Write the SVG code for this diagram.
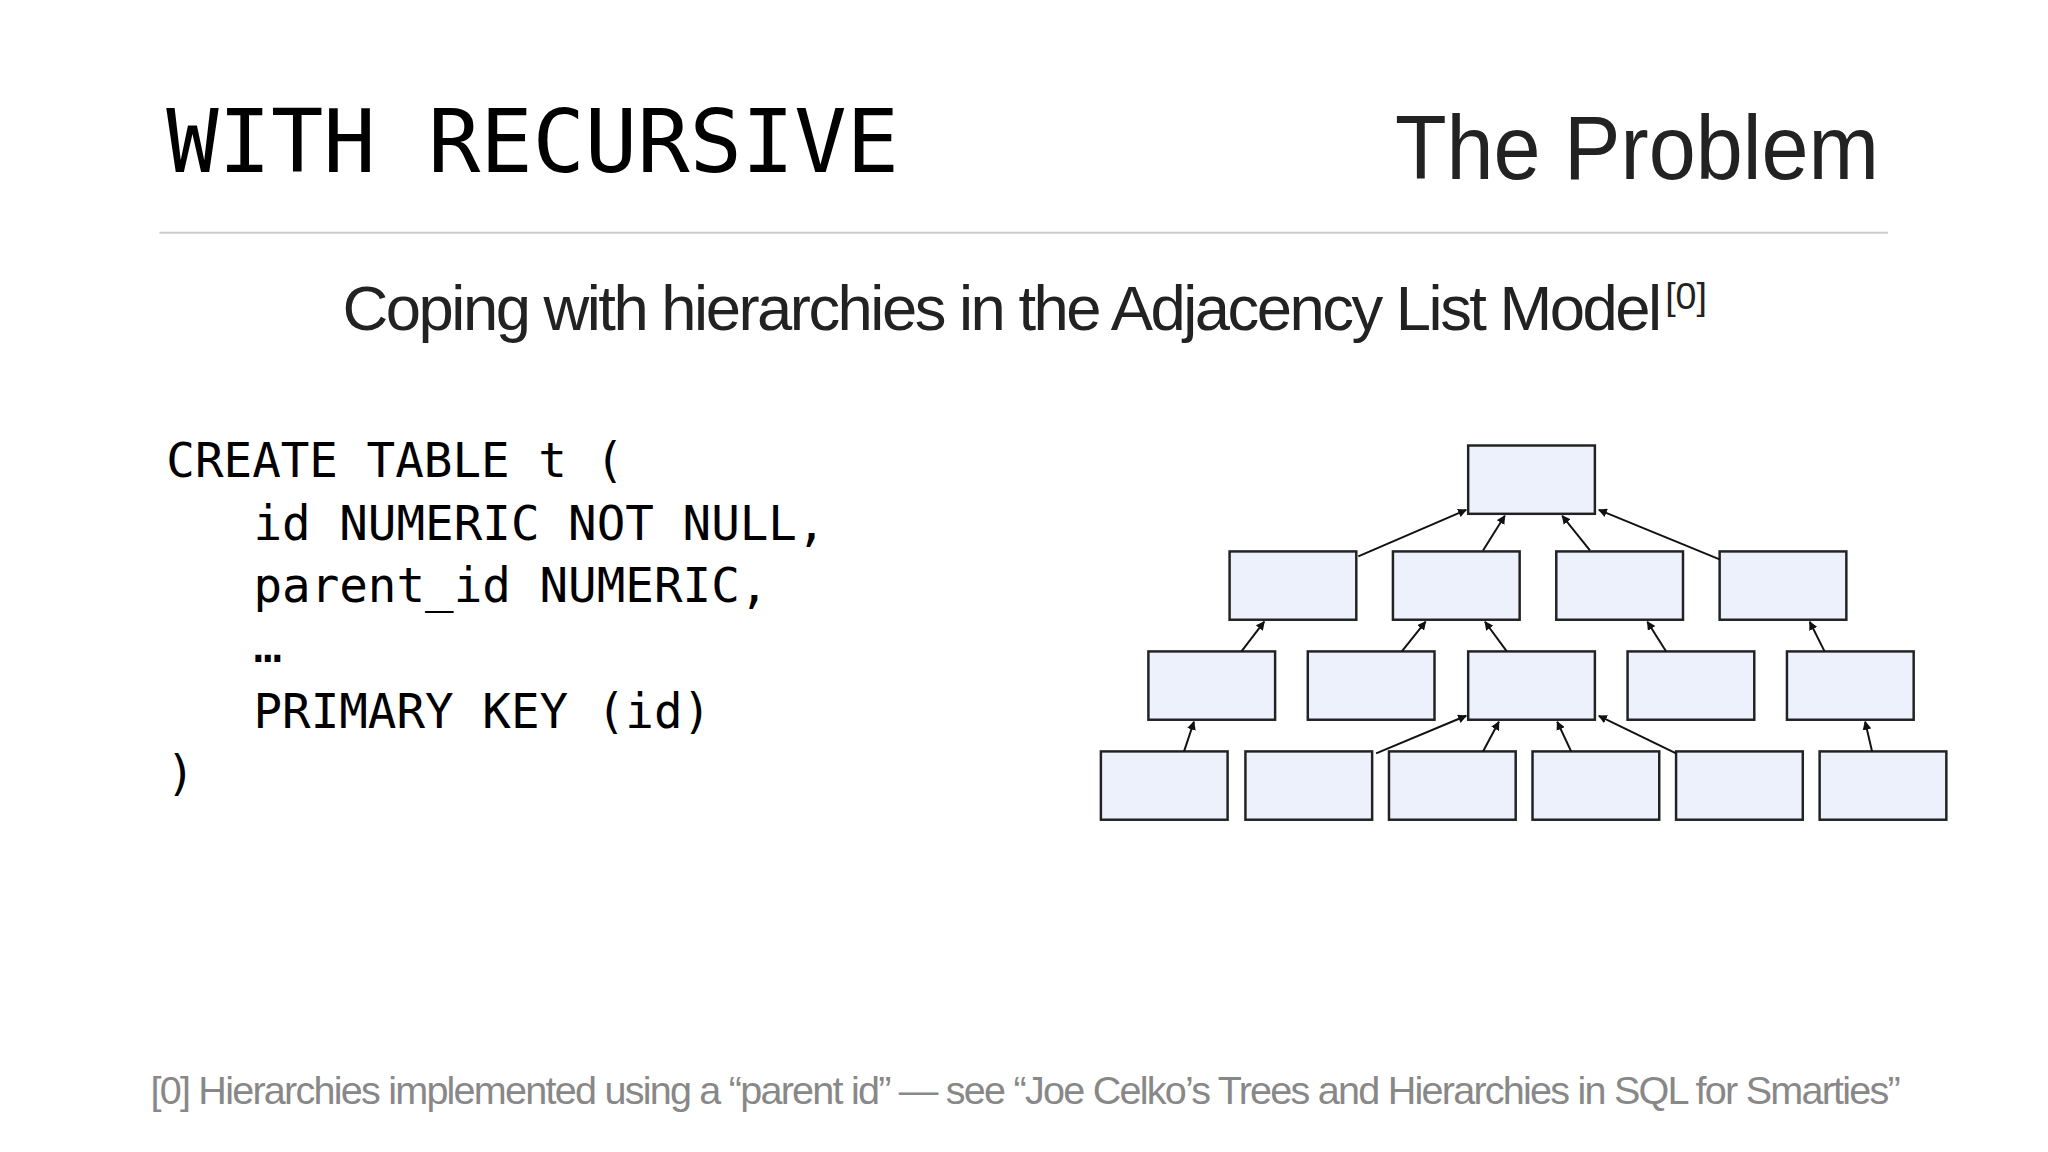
<svg xmlns="http://www.w3.org/2000/svg" width="2048" height="1152" viewBox="0 0 2048 1152">
<defs>
<marker id="ah" viewBox="0 0 10 10" refX="9" refY="5" markerWidth="9" markerHeight="9" markerUnits="userSpaceOnUse" orient="auto"><path d="M0,0 L10,5 L0,10 z" fill="#111"/></marker>
<style>
.box{fill:#ecf1fb;stroke:#222;stroke-width:2.5}
.c line{stroke:#111;stroke-width:2;marker-end:url(#ah)}
.code{font-family:"DejaVu Sans Mono","Liberation Mono",monospace;font-size:48px;fill:#000}
.sans{font-family:"Liberation Sans","Noto Sans",sans-serif}
</style>
</defs>
<rect width="2048" height="1152" fill="#fff"/>
<g transform="scale(0.99)">
<text x="168" y="174" font-family="'DejaVu Sans Mono','Liberation Mono',monospace" font-size="88" textLength="740" fill="#000">WITH RECURSIVE</text>
<text x="1409" y="181" class="sans" font-size="92" fill="#222" textLength="489" lengthAdjust="spacingAndGlyphs">The Problem</text>
<line x1="161" y1="235" x2="1907" y2="235" stroke="#ccc" stroke-width="2"/>
<text x="346" y="333" class="sans" font-size="64" fill="#222" textLength="1332" letter-spacing="-1">Coping with hierarchies in the Adjacency List Model</text>
<text x="1682" y="312" class="sans" font-size="38" fill="#222">[0]</text>
<g class="code">
<text x="168" y="482">CREATE TABLE t (</text>
<text x="256" y="545">id NUMERIC NOT NULL,</text>
<text x="256" y="608">parent_id NUMERIC,</text>
<text x="256" y="669">…</text>
<text x="256" y="735">PRIMARY KEY (id)</text>
<text x="168" y="798">)</text>
</g>
<text x="152" y="1115" class="sans" font-size="40" fill="#888" textLength="1768">[0] Hierarchies implemented using a “parent id” — see “Joe Celko’s Trees and Hierarchies in SQL for Smarties”</text>
<g id="n0"><rect class="box" x="1483" y="450" width="128" height="69"/></g>
<g id="n1a"><rect class="box" x="1242" y="557" width="128" height="69"/></g>
<g id="n1b"><rect class="box" x="1407" y="557" width="128" height="69"/></g>
<g id="n1c"><rect class="box" x="1572" y="557" width="128" height="69"/></g>
<g id="n1d"><rect class="box" x="1737" y="557" width="128" height="69"/></g>
<g id="n2a"><rect class="box" x="1160" y="658" width="128" height="69"/></g>
<g id="n2b"><rect class="box" x="1321" y="658" width="128" height="69"/></g>
<g id="n2c"><rect class="box" x="1483" y="658" width="128" height="69"/></g>
<g id="n2d"><rect class="box" x="1644" y="658" width="128" height="69"/></g>
<g id="n2e"><rect class="box" x="1805" y="658" width="128" height="69"/></g>
<g id="n3a"><rect class="box" x="1112" y="759" width="128" height="69"/></g>
<g id="n3b"><rect class="box" x="1258" y="759" width="128" height="69"/></g>
<g id="n3c"><rect class="box" x="1403" y="759" width="128" height="69"/></g>
<g id="n3d"><rect class="box" x="1548" y="759" width="128" height="69"/></g>
<g id="n3e"><rect class="box" x="1693" y="759" width="128" height="69"/></g>
<g id="n3f"><rect class="box" x="1838" y="759" width="128" height="69"/></g>
<g class="c" id="connectors">
<line x1="1372" y1="562" x2="1481" y2="515"/>
<line x1="1498" y1="556" x2="1520" y2="521"/>
<line x1="1606" y1="556" x2="1578" y2="521"/>
<line x1="1737" y1="565" x2="1615" y2="515"/>
<line x1="1254" y1="658" x2="1277" y2="628"/>
<line x1="1416" y1="658" x2="1440" y2="628"/>
<line x1="1522" y1="658" x2="1500" y2="628"/>
<line x1="1683" y1="658" x2="1664" y2="628"/>
<line x1="1843" y1="658" x2="1828" y2="628"/>
<line x1="1196" y1="759" x2="1206" y2="729"/>
<line x1="1390" y1="761" x2="1481" y2="723"/>
<line x1="1498" y1="759" x2="1514" y2="729"/>
<line x1="1587" y1="759" x2="1573" y2="729"/>
<line x1="1693" y1="761" x2="1615" y2="723"/>
<line x1="1891" y1="759" x2="1884" y2="729"/>
</g>
</g>
</svg>
